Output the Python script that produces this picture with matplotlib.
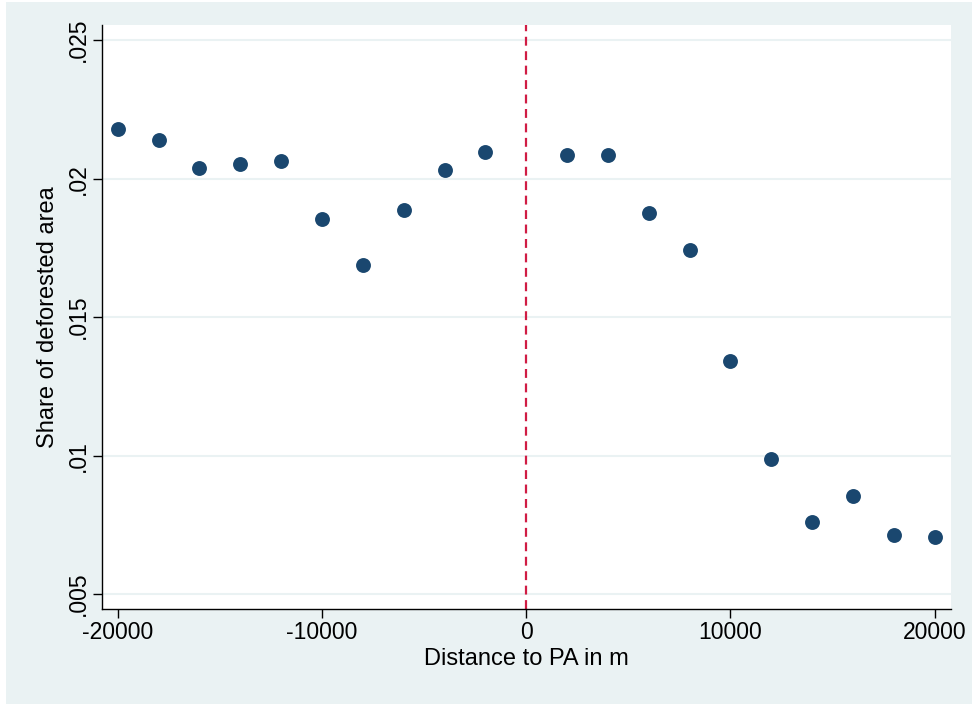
import numpy as np
import matplotlib.pyplot as plt
from matplotlib.patches import Rectangle

plt.rcParams['font.family'] = ['Liberation Sans', 'DejaVu Sans']
plt.rcParams['axes.unicode_minus'] = False

distance = [-20000, -18000, -16000, -14000, -12000, -10000, -8000, -6000, -4000, -2000,
            2000, 4000, 6000, 8000, 10000, 12000, 14000, 16000, 18000, 20000]
share = [0.02180, 0.02140, 0.02039, 0.02054, 0.02063, 0.01854, 0.01687, 0.01888, 0.02033, 0.02095,
         0.02087, 0.02087, 0.01877, 0.01744, 0.01343, 0.00988, 0.00759, 0.00854, 0.00713, 0.00705]
yticks = [0.005, 0.01, 0.015, 0.02, 0.025]
ytick_labels = [".005", ".01", ".015", ".02", ".025"]
xticks = [-20000, -10000, 0, 10000, 20000]

bg = '#EAF2F3'
fig = plt.figure(figsize=(9.72, 7.04), dpi=100, facecolor='white')
fig.patches.append(Rectangle((6/972, 0), 1, 1 - 2/704, transform=fig.transFigure,
                             facecolor=bg, edgecolor='none', zorder=-10))
ax = fig.add_axes([102/972, 1 - 609/704, (951 - 102)/972, (609 - 25)/704])
ax.set_facecolor('white')

ax.scatter(distance, share, s=115, color='#1A476F', zorder=3, linewidths=0)
ax.axvline(0, color='#D01C44', linestyle=(0, (4, 2.5)), linewidth=1.6, zorder=2)

ax.set_xlim(-20770, 20800)
ax.set_ylim(0.00446, 0.02555)
ax.set_yticks(yticks)
ax.set_yticklabels(ytick_labels, rotation=90, va='center')
ax.set_xticks(xticks)
ax.grid(axis='y', color=bg, linewidth=1.5)
ax.set_axisbelow(True)

for s in ['top', 'right']:
    ax.spines[s].set_visible(False)
for s in ['left', 'bottom']:
    ax.spines[s].set_linewidth(1.0)
ax.tick_params(direction='out', length=6.5, width=1.0, labelsize=16.5, pad=2)

ax.set_xlabel("Distance to PA in m", fontsize=17, labelpad=3)
ax.set_ylabel("Share of deforested area", fontsize=17, labelpad=6)

fig.savefig("out.png", dpi=100, facecolor=fig.get_facecolor())
